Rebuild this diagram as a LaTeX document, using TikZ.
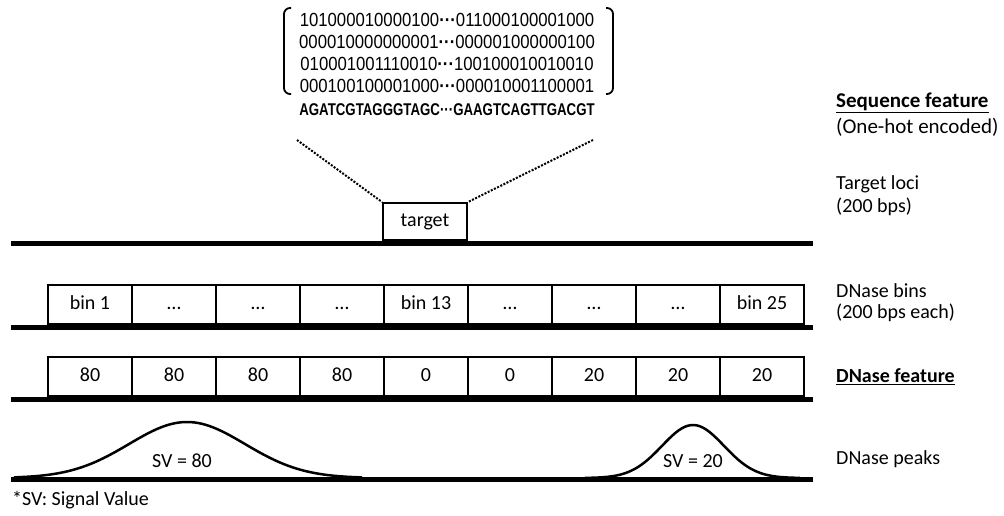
\documentclass[tikz,border=0pt]{standalone}
\usepackage{fontspec}
\setmainfont{Carlito}
\newfontfamily\bitfont[FakeStretch=0.88]{Liberation Sans}
\newfontfamily\seqfont[FakeStretch=0.78]{Liberation Sans}
\usetikzlibrary{positioning}
\newcommand{\dotsbin}{\ldots}
\newcommand{\gap}{{\bfseries···}}

\begin{document}
\begin{tikzpicture}[x=1pt, y=-1pt,
    every node/.style={font=\fontsize{20}{22}\selectfont, inner sep=0pt},
    bitrow/.style={font=\bitfont\fontsize{19}{20}\selectfont},
    seqrow/.style={font=\seqfont\bfseries\fontsize{17}{20}\selectfont},
    bincell/.style={draw, line width=2pt, minimum width=84pt, minimum height=39pt,
        text height=13pt, text depth=4pt, anchor=south west},
    track/.style={line width=5pt},
    peak/.style={line width=2.5pt, line join=round},
    dotline/.style={line width=2pt, dash pattern=on 2pt off 1.5pt},
    lbl/.style={anchor=west},
    biglbl/.style={anchor=west, font=\fontsize{21}{23}\selectfont}]
    \useasboundingbox (0,0) rectangle (1004,516);

    % Sequenz, one-hot
    \node[bitrow] (row1) at (447,20) {101000010000100\gap011000100001000};
    \node[bitrow] (row2) at (447,42) {000010000000001\gap000001000000100};
    \node[bitrow] (row3) at (447,64) {010001001110010\gap100100010010010};
    \node[bitrow] (row4) at (447,86) {000100100001000\gap000010001100001};
    \draw[line width=1.8pt, rounded corners=6pt] (291,8) -- (284,8) -- (284,94) -- (291,94);
    \draw[line width=1.8pt, rounded corners=6pt] (606,8) -- (613,8) -- (613,94) -- (606,94);
    \node[seqrow] (seq) at (447,110) {AGATCGTAGGGTAGC···GAAGTCAGTTGACGT};

    % Zielregion
    \node[draw, line width=2pt, minimum width=84pt, minimum height=37pt, anchor=south] (target) at (425,241) {target};
    \coordinate (seqL) at (297,140);
    \coordinate (seqR) at (593,140);
    \draw[dotline] (seqL) -- (target.north west);
    \draw[dotline] (seqR) -- (target.north east);
    \draw[track] (11,243) -- (813,243);

    % DNase bins
    \foreach \lab [count=\i] in {bin 1,\dotsbin,\dotsbin,\dotsbin,bin 13,\dotsbin,\dotsbin,\dotsbin,bin 25}
        \node[bincell] (bin\i) at ({47+84*(\i-1)},325) {\lab};
    \draw[track] (11,327) -- (813,327);

    % DNase feature
    \foreach \val [count=\i] in {80,80,80,80,0,0,20,20,20}
        \node[bincell] (feat\i) at ({47+84*(\i-1)},397) {\val};
    \draw[track] (11,399) -- (813,399);

    % DNase peaks
    \draw[peak] plot[domain=14:362, samples=90, smooth] (\x,{478-56*exp(-0.5*((\x-187)/58)^2)});
    \draw[peak] plot[domain=585:800, samples=70, smooth] (\x,{478-53*exp(-0.5*((\x-693)/31)^2)});
    \draw[track] (11,479) -- (813,479);
    \node (sv80) at (182,461) {SV = 80};
    \node (sv20) at (693,461) {SV = 20};
    \node[lbl] (note) at (12,500) {*SV: Signal Value};

    % Beschriftung rechts
    \node[biglbl] (seqlbl) at (836,103) {\underline{\textbf{Sequence feature}}};
    \node[biglbl] (seqsub) at (836,127) {(One-hot encoded)};
    \node[lbl] (tgtlbl) at (836,184) {Target loci};
    \node[lbl] (tgtsub) at (836,207) {(200 bps)};
    \node[lbl] (binlbl) at (836,291) {DNase bins};
    \node[lbl] (binsub) at (836,313) {(200 bps each)};
    \node[lbl] (featlbl) at (836,377) {\underline{\textbf{DNase feature}}};
    \node[lbl] (peaklbl) at (836,459) {DNase peaks};
\end{tikzpicture}
\end{document}
